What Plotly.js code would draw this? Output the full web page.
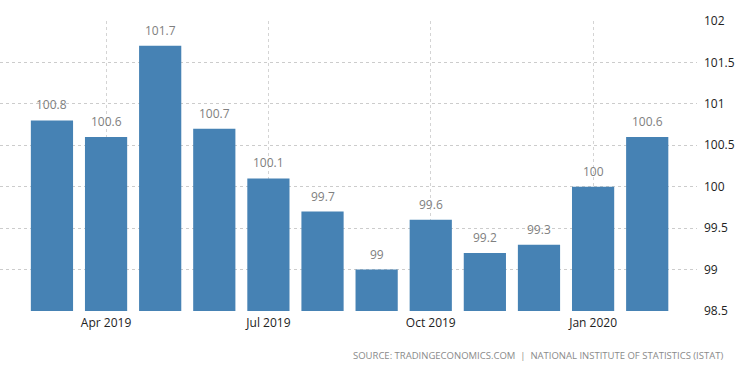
<!DOCTYPE html>
<html>
<head>
<meta charset="utf-8">
<script src="https://cdn.plot.ly/plotly-3.0.1.min.js"></script>
<style>html,body{margin:0;padding:0;background:#fff;}#chart{width:750px;height:373px;}</style>
</head>
<body>
<div id="chart"></div>
<script>
var months = ["Mar 2019","Apr 2019","May 2019","Jun 2019","Jul 2019","Aug 2019","Sep 2019","Oct 2019","Nov 2019","Dec 2019","Jan 2020","Feb 2020"];
var values = [100.8, 100.6, 101.7, 100.7, 100.1, 99.7, 99, 99.6, 99.2, 99.3, 100, 100.6];
var tickLabels = ["Apr 2019","Jul 2019","Oct 2019","Jan 2020"];
var yTicks = [98.5, 99, 99.5, 100, 100.5, 101, 101.5, 102];
var sourceText = "SOURCE: TRADINGECONOMICS.COM  |  NATIONAL INSTITUTE OF STATISTICS (ISTAT)";

var trace = {
  type: "bar",
  x: months,
  y: values,
  marker: {color: "#4682b4"},
  width: 0.78,
  hoverinfo: "none"
};

var valueLabels = months.map(function(m, i){
  return {
    xref: "x", yref: "y",
    x: m, y: values[i],
    text: String(values[i]),
    showarrow: false,
    xanchor: "center", yanchor: "bottom",
    yshift: 5,
    font: {family: "Open Sans, sans-serif", size: 12, color: "#808080"}
  };
});

var layout = {
  width: 750, height: 373,
  margin: {l: 0, r: 53, t: 21, b: 62},
  paper_bgcolor: "#fff", plot_bgcolor: "#fff",
  showlegend: false,
  xaxis: {
    type: "category",
    range: [-0.96, 11.92],
    tickmode: "array",
    tickvals: tickLabels,
    ticktext: tickLabels,
    showgrid: true,
    gridcolor: "#d4d4d4",
    griddash: "dot",
    gridwidth: 1,
    ticks: "",
    showline: false,
    zeroline: false,
    ticklabelstandoff: 3,
    tickfont: {family: "Open Sans, sans-serif", size: 12, color: "#222"}
  },
  yaxis: {
    side: "right",
    range: [98.5, 102],
    tickmode: "array",
    tickvals: yTicks,
    ticktext: yTicks.map(String),
    showgrid: true,
    gridcolor: "#cccccc",
    griddash: "dot",
    gridwidth: 1,
    zeroline: false,
    showline: false,
    ticks: "",
    ticklabelstandoff: 6,
    tickfont: {family: "Open Sans, sans-serif", size: 12, color: "#222"}
  },
  annotations: valueLabels.concat([{
    xref: "paper", yref: "paper",
    x: 1.04, y: -0.155,
    xanchor: "right", yanchor: "middle",
    showarrow: false,
    text: sourceText,
    font: {family: "Open Sans, sans-serif", size: 9.5, color: "#8a8a8a"}
  }])
};

Plotly.newPlot("chart", [trace], layout, {displayModeBar: false, staticPlot: true});
</script>
</body>
</html>
